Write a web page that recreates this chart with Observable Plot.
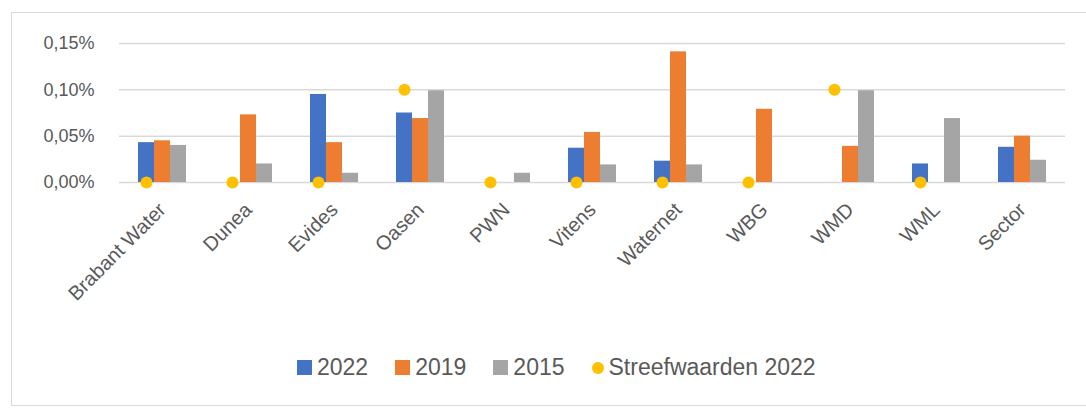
<!DOCTYPE html>
<html>
<head>
<meta charset="utf-8">
<script src="https://cdn.jsdelivr.net/npm/d3@7"></script>
<script src="https://cdn.jsdelivr.net/npm/@observablehq/plot@0.6"></script>
<style>
  html, body { margin: 0; padding: 0; background: #fff; }
  #wrap { position: relative; width: 1086px; height: 408px; overflow: hidden; font-family: "Liberation Sans", Arial, sans-serif; }
  #border { position: absolute; left: 11px; top: 12px; width: 1100px; height: 394px; border: 1px solid #d9d9d9; box-sizing: border-box; }
  #chart { position: absolute; left: 0; top: 0; }
  #chart svg { font-size: 20px !important; }
  #chart svg text { fill: #595959; }
  #legend { position: absolute; left: 297px; top: 354px; display: flex; align-items: center; gap: 27px; font-size: 23px; color: #595959; }
  #legend .item { display: flex; align-items: center; gap: 5px; }
  #legend .sw { width: 15px; height: 15px; display: inline-block; }
  #legend .dot { width: 12px; height: 12px; border-radius: 50%; display: inline-block; }
</style>
</head>
<body>
<div id="wrap">
  <div id="border"></div>
  <div id="chart"></div>
  <div id="legend"></div>
</div>
<script>
const categories = ["Brabant Water","Dunea","Evides","Oasen","PWN","Vitens","Waternet","WBG","WMD","WML","Sector"];
const seriesNames = ["2022","2019","2015"];
const v2022 = [0.043, null, 0.095, 0.075, null, 0.037, 0.023, null, null, 0.020, 0.038];
const v2019 = [0.045, 0.073, 0.043, 0.069, null, 0.054, 0.141, 0.079, 0.039, null, 0.050];
const v2015 = [0.040, 0.020, 0.010, 0.099, 0.010, 0.019, 0.019, null, 0.099, 0.069, 0.024];
const streefwaarden = [0, 0, 0, 0.10, 0, 0, 0, 0, 0.10, 0, null];
const streefLabel = "Streefwaarden 2022";
const yTicks = [0, 0.05, 0.10, 0.15];
const colors = ["#4472C4", "#ED7D31", "#A5A5A5"];
const dotColor = "#FFC000";

const seriesValues = [v2022, v2019, v2015];
const bars = [];
categories.forEach((c, i) => {
  seriesNames.forEach((s, j) => {
    const v = seriesValues[j][i];
    if (v != null) bars.push({company: c, series: s, value: v});
  });
});
const dots = categories
  .map((c, i) => ({company: c, series: "2022", value: streefwaarden[i]}))
  .filter(d => d.value != null);

const fmt = d => d.toFixed(2).replace(".", ",") + "%";

const chart = Plot.plot({
  width: 1086,
  height: 340,
  marginLeft: 117,
  marginRight: 19,
  marginTop: 43,
  marginBottom: 158,
  style: {fontFamily: "Liberation Sans, Arial, sans-serif", fontSize: "20px", color: "#595959", background: "transparent"},
  fx: {domain: categories, padding: 0, label: null, tickRotate: -45, tickSize: 0, tickPadding: 24},
  x: {domain: seriesNames, paddingInner: 0, paddingOuter: 1.09, axis: null},
  y: {domain: [0, 0.15], ticks: yTicks, tickFormat: fmt, label: null, tickSize: 0, tickPadding: 25},
  color: {domain: seriesNames, range: colors},
  marks: [
    Plot.ruleY(yTicks, {stroke: "#d9d9d9", strokeWidth: 1.5}),
    Plot.barY(bars, {fx: "company", x: "series", y: "value", fill: "series"}),
    Plot.dot(dots, {fx: "company", x: "series", y: "value", r: 6, fill: dotColor, stroke: "none"})
  ]
});
chart.querySelectorAll("g[aria-label^='y-axis']").forEach(g => { g.setAttribute("font-size", "18"); g.style.fontSize = "18px"; });
document.getElementById("chart").appendChild(chart);

const legend = document.getElementById("legend");
seriesNames.forEach((s, j) => {
  const it = document.createElement("div");
  it.className = "item";
  it.innerHTML = `<span class="sw" style="background:${colors[j]}"></span><span>${s}</span>`;
  legend.appendChild(it);
});
const it = document.createElement("div");
it.className = "item";
it.innerHTML = `<span class="dot" style="background:${dotColor}"></span><span>${streefLabel}</span>`;
legend.appendChild(it);
</script>
</body>
</html>
